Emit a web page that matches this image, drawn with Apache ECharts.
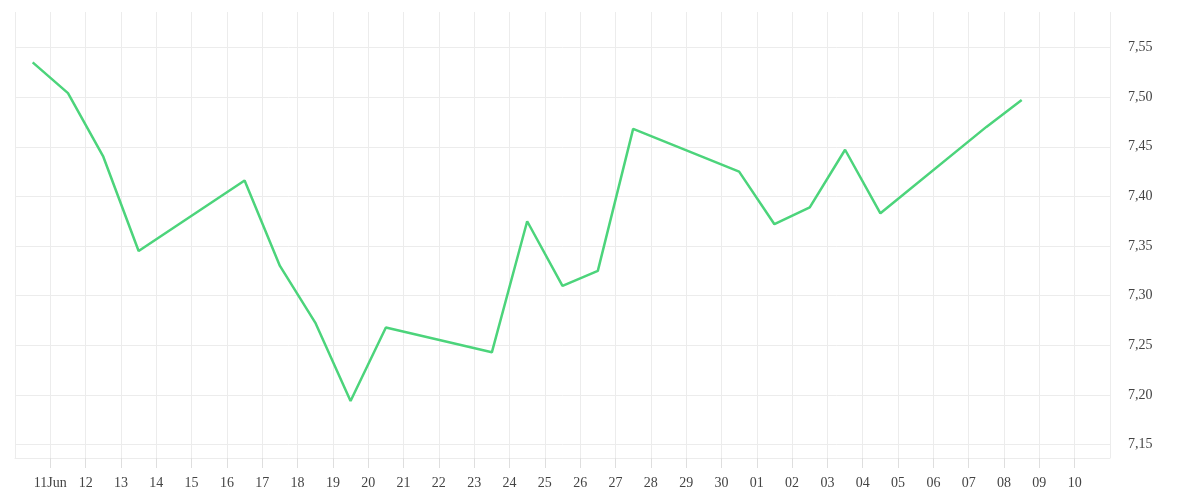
<!DOCTYPE html>
<html>
<head>
<meta charset="utf-8">
<script src="https://cdn.jsdelivr.net/npm/echarts@6/dist/echarts.min.js"></script>
<style>
html,body{margin:0;padding:0;background:#fff;}
#chart{width:1200px;height:500px;}
</style>
</head>
<body>
<div id="chart"></div>
<script>
// Trading days (plotted at midday)
const dates = [
  '2025-06-10','2025-06-11','2025-06-12','2025-06-13',
  '2025-06-16','2025-06-17','2025-06-18','2025-06-19','2025-06-20',
  '2025-06-23','2025-06-24','2025-06-25','2025-06-26','2025-06-27',
  '2025-06-30','2025-07-01','2025-07-02','2025-07-03','2025-07-04',
  '2025-07-07','2025-07-08'
];
const values = [
  7.535, 7.504, 7.440, 7.345,
  7.416, 7.330, 7.273, 7.194, 7.268,
  7.243, 7.375, 7.310, 7.325, 7.468,
  7.425, 7.372, 7.389, 7.447, 7.383,
  7.470, 7.497
];
const axisStart = '2025-06-10';
const axisEnd = '2025-07-11';
const monthNames = ['Jan','Feb','Mar','Apr','May','Jun','Jul','Aug','Sep','Oct','Nov','Dec'];

const DAY = 86400000;
function toMs(s, hour) {
  const p = s.split('-').map(Number);
  return Date.UTC(p[0], p[1] - 1, p[2], hour || 0);
}
const xMin = toMs(axisStart);
const xMax = toMs(axisEnd);
const seriesData = dates.map((d, i) => [toMs(d, 12), values[i]]);

const chart = echarts.init(document.getElementById('chart'), null, {renderer: 'canvas'});
const font = "'Liberation Serif', serif";
chart.setOption({
  animation: false,
  backgroundColor: '#ffffff',
  grid: {left: 15, right: 90, top: 12, bottom: 42, containLabel: false},
  xAxis: {
    type: 'value',
    min: xMin,
    max: xMax,
    interval: DAY,
    axisLine: {show: true, onZero: false, lineStyle: {color: '#ececec', width: 1}},
    axisTick: {show: true, inside: false, length: 10, lineStyle: {color: '#dedede', width: 1}},
    splitLine: {show: true, lineStyle: {color: '#ececec', width: 1}},
    axisLabel: {
      showMinLabel: false,
      showMaxLabel: false,
      margin: 18,
      color: '#444',
      fontFamily: font,
      fontSize: 14,
      formatter: function (v) {
        const d = new Date(v);
        const day = String(d.getUTCDate()).padStart(2, '0');
        if (v === xMin + DAY) return day + monthNames[d.getUTCMonth()];
        return day;
      }
    }
  },
  yAxis: {
    type: 'value',
    position: 'right',
    min: 7.1366,
    max: 7.5857,
    splitNumber: 9,
    axisLine: {show: false},
    axisTick: {show: false},
    splitLine: {show: true, showMinLine: true, showMaxLine: false, lineStyle: {color: '#ececec', width: 1}},
    axisLabel: {
      showMinLabel: false,
      showMaxLabel: false,
      margin: 18,
      color: '#444',
      fontFamily: font,
      fontSize: 14,
      formatter: function (v) { return v.toFixed(2).replace('.', ','); }
    }
  },
  series: [{
    type: 'line',
    data: seriesData,
    showSymbol: false,
    symbol: 'none',
    lineStyle: {color: '#4cd47b', width: 2.5},
    itemStyle: {color: '#4cd47b'}
  }]
});
</script>
</body>
</html>
